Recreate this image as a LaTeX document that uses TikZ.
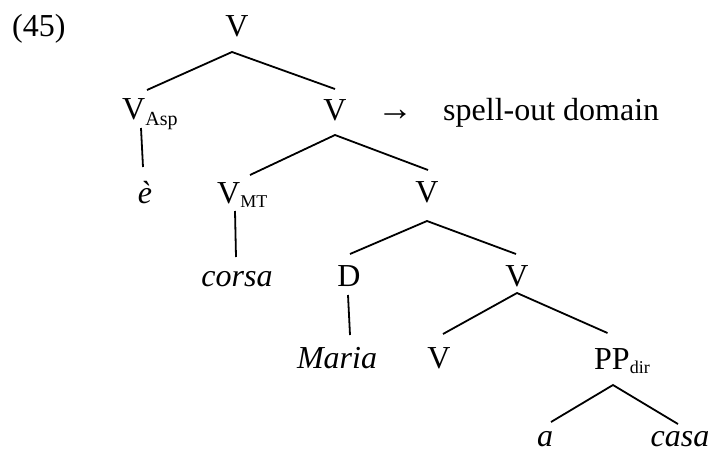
\documentclass[tikz,border=0pt]{standalone}
\usepackage{fontspec}
\setmainfont{Liberation Serif}
\begin{document}
\begin{tikzpicture}[x=1pt,y=-1pt,
  lab/.style={inner sep=0pt,anchor=base,font=\fontsize{32}{36}\selectfont},
  labw/.style={inner sep=0pt,anchor=base west,font=\fontsize{32}{36}\selectfont},
  edge/.style={line width=1.8pt,line cap=butt}]
\useasboundingbox (0,0) rectangle (713,453);
% nodes
\node[labw] (ex) at (12,36) {(45)};
\node[lab] (root) at (237,36) {V};
\node[labw] (vasp) at (122,119) {V\raisebox{-6pt}{\fontsize{20}{20}\selectfont Asp}};
\node[lab] (eg) at (145,203) {\itshape è};
\node[lab] (v2) at (335,120) {V};
\node[lab,font=\fontsize{36}{40}\selectfont] (arr) at (395,120) {→};
\node[labw] (spell) at (443,120) {spell-out domain};
\node[labw] (vmt) at (217,203) {V\raisebox{-4pt}{\fontsize{18}{18}\selectfont MT}};
\node[lab] (corsa) at (237,286) {\itshape corsa};
\node[lab] (v3) at (427,202) {V};
\node[lab] (d) at (349,286) {D};
\node[lab] (v4) at (517,286) {V};
\node[lab] (maria) at (337,368) {\itshape Maria};
\node[lab] (v5) at (439,368) {V};
\node[labw] (pp) at (594,369) {PP\raisebox{-4pt}{\fontsize{18}{18}\selectfont dir}};
\node[lab] (a) at (545,446) {\itshape a};
\node[lab] (casa) at (680,446) {\itshape casa};
% edges
\draw[edge] ([shift={(25,-29)}]vasp.base west) -- ([shift={(-5,16)}]root.base) -- ([shift={(0,-31)}]v2.base);
\draw[edge] ([shift={(19,9)}]vasp.base west) -- ([shift={(-2,-36)}]eg.base);
\draw[edge] ([shift={(33,-28)}]vmt.base west) -- ([shift={(0,15)}]v2.base) -- ([shift={(1,-32)}]v3.base);
\draw[edge] ([shift={(18,8)}]vmt.base west) -- ([shift={(-1,-29)}]corsa.base);
\draw[edge] ([shift={(1,-32)}]d.base) -- ([shift={(0,19)}]v3.base) -- ([shift={(-1,-32)}]v4.base);
\draw[edge] ([shift={(-1,9)}]d.base) -- ([shift={(13,-33)}]maria.base);
\draw[edge] ([shift={(4,-34)}]v5.base) -- ([shift={(0,7)}]v4.base) -- ([shift={(13.5,-36)}]pp.base west);
\draw[edge] ([shift={(6,-24)}]a.base) -- ([shift={(19,16)}]pp.base west) -- ([shift={(-2,-22)}]casa.base);
\end{tikzpicture}
\end{document}
